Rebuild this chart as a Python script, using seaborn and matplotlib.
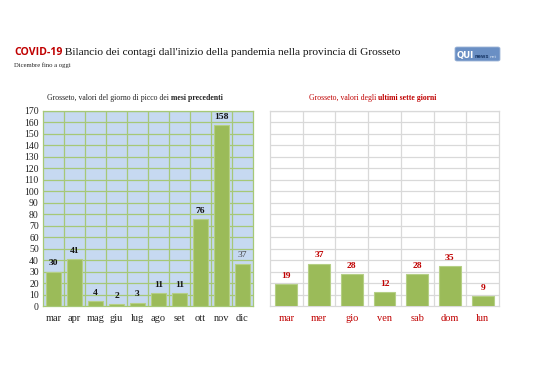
import matplotlib
matplotlib.use("Agg")
import matplotlib.pyplot as plt
import seaborn as sns
import pandas as pd
from matplotlib.patches import FancyBboxPatch

sns.set_theme(style="white")
plt.rcParams['font.family'] = ['Liberation Serif', 'DejaVu Serif']

# ---- data ----
months = ["mar", "apr", "mag", "giu", "lug", "ago", "set", "ott", "nov", "dic"]
peak_values = [30, 41, 4, 2, 3, 11, 11, 76, 158, 37]
days = ["mar", "mer", "gio", "ven", "sab", "dom", "lun"]
week_values = [19, 37, 28, 12, 28, 35, 9]
y_ticks = list(range(0, 171, 10))

title_red = "COVID-19"
title_rest = " Bilancio dei contagi dall'inizio della pandemia nella provincia di Grosseto"
subtitle = "Dicembre fino a oggi"
left_title = ("Grosseto, valori del giorno di picco dei ", "mesi precedenti")
right_title = ("Grosseto, valori degli ", "ultimi sette giorni")

BAR = "#9BBB59"
BAR_EDGE = "#b5cf85"
BG = "#C6D9F1"
GRID_L = "#a6c877"
GRID_R = "#d9d9d9"
RED = "#C00000"

W, H = 538, 380
fig = plt.figure(figsize=(W / 100, H / 100), dpi=100)
fig.patch.set_facecolor("white")

def fx(px):
    return px / W

def fy(py):
    return 1 - py / H

axL = fig.add_axes([fx(43), fy(306), fx(253 - 43), fy(111) - fy(306)])
axR = fig.add_axes([fx(270), fy(306), fx(499 - 270), fy(111) - fy(306)])

dfL = pd.DataFrame({"mese": months, "valore": peak_values})
dfR = pd.DataFrame({"giorno": days, "valore": week_values})

sns.barplot(data=dfL, x="mese", y="valore", color=BAR, saturation=1,
            width=0.75, ax=axL, edgecolor=BAR_EDGE, linewidth=0.8, zorder=3)
sns.barplot(data=dfR, x="giorno", y="valore", color=BAR, saturation=1,
            width=0.67, ax=axR, edgecolor=BAR_EDGE, linewidth=0.8, zorder=3)

for ax, n, gcol, face in [(axL, len(months), GRID_L, BG), (axR, len(days), GRID_R, "white")]:
    ax.set_facecolor(face)
    ax.set_ylim(0, 170)
    ax.set_xlim(-0.5, n - 0.5)
    ax.set_yticks(y_ticks)
    for y in y_ticks[1:]:
        ax.axhline(y, color=gcol, lw=0.9, zorder=1)
    for i in range(n - 1):
        ax.axvline(i + 0.5, color=gcol, lw=0.9, zorder=1)
    ax.set_xlabel("")
    ax.set_ylabel("")
    for s in ax.spines.values():
        s.set_color(gcol)
        s.set_linewidth(0.9)
    ax.tick_params(axis="both", length=0, pad=4)

axL.tick_params(axis="y", labelsize=7, colors="#222222", pad=3)
axL.tick_params(axis="x", labelsize=7.5, colors="#222222", pad=6)
axR.set_yticklabels([])
axR.tick_params(axis="x", labelsize=7.5, colors=RED, pad=6)

# value labels
for i, v in enumerate(peak_values):
    last = (i == len(peak_values) - 1)
    axL.annotate(str(v), (i, v), xytext=(0, 3), textcoords="offset points",
                 ha="center", va="bottom", fontsize=6.8,
                 fontweight="normal" if last else "bold",
                 color="#444444" if last else "#111111")
for i, v in enumerate(week_values):
    axR.annotate(str(v), (i, v), xytext=(0, 3), textcoords="offset points",
                 ha="center", va="bottom", fontsize=6.8, fontweight="bold", color=RED)

# titles
fig.canvas.draw()
r = fig.canvas.get_renderer()

t1 = fig.text(fx(14), fy(55), title_red, fontsize=7.6, fontweight="bold", color=RED,
              family=["Open Sans", "DejaVu Sans"], va="baseline", ha="left")
bb = t1.get_window_extent(r)
fig.text(bb.x1 / W, fy(55), title_rest, fontsize=8.2, color="#111111", va="baseline", ha="left")
fig.text(fx(14), fy(67), subtitle, fontsize=4.8, color="#222222", va="baseline", ha="left")

def mixed_title(cx, y, parts, color, fs):
    a = fig.text(0, fy(y), parts[0], fontsize=fs, color=color, va="baseline", ha="left")
    b = fig.text(0, fy(y), parts[1], fontsize=fs, color=color, fontweight="bold",
                 va="baseline", ha="left")
    wa = a.get_window_extent(r).width
    wb = b.get_window_extent(r).width
    x0 = cx - (wa + wb) / 2
    a.set_x(x0 / W)
    b.set_x((x0 + wa) / W)

mixed_title(135, 100, left_title, "#222222", 5.6)
mixed_title(373, 100, right_title, RED, 5.6)

# logo
logo = FancyBboxPatch((fx(455), fy(61)), fx(45), fy(47) - fy(61),
                      boxstyle="round,pad=0,rounding_size=0.004",
                      transform=fig.transFigure, facecolor="#6a8fc4",
                      edgecolor="#9fb6d8", lw=0.6)
fig.patches.append(logo)
q = fig.text(fx(456.5), fy(58), "QUI", fontsize=6.2, fontweight="bold", color="white",
             family=["DejaVu Sans"], va="baseline", ha="left")
qx = q.get_window_extent(r).x1
nw = fig.text((qx + 1) / W, fy(57.5), "news", fontsize=3.6, fontweight="bold",
              color="#1f3e6e", family=["DejaVu Sans"], va="baseline", ha="left")
nx = nw.get_window_extent(r).x1
fig.text((nx + 0.5) / W, fy(57.5), "net", fontsize=3.2, color="#d5e0f0",
         family=["DejaVu Sans"], va="baseline", ha="left")

fig.savefig("out.png", dpi=100, facecolor="white")
